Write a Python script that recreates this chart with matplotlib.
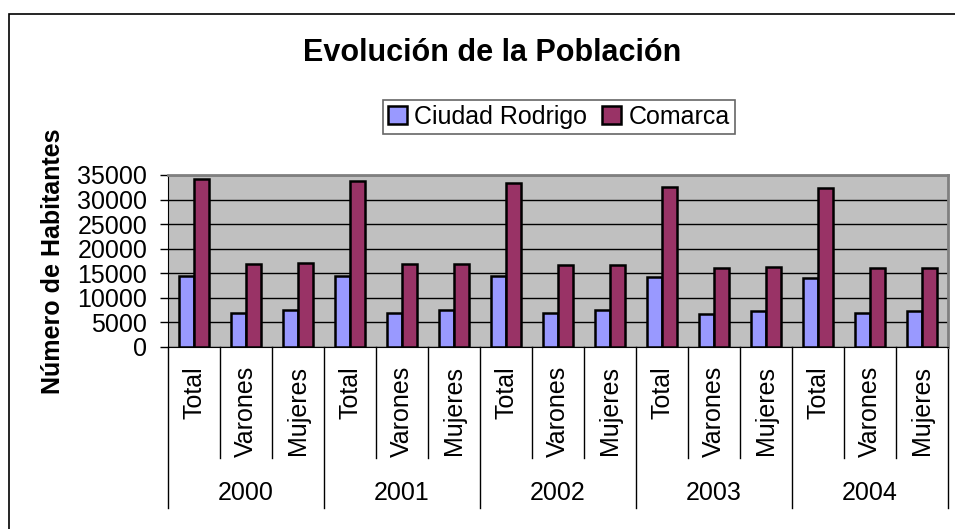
import numpy as np
import matplotlib.pyplot as plt
from matplotlib.patches import Patch, Rectangle
import matplotlib.transforms as mtransforms

plt.rcParams['font.family'] = ['Liberation Sans', 'DejaVu Sans']
FONTSIZE = 18

years = ["2000", "2001", "2002", "2003", "2004"]
subcats = ["Total", "Varones", "Mujeres"]
ciudad_rodrigo = [14530, 6890, 7570,
                  14400, 6890, 7450,
                  14470, 6960, 7570,
                  14200, 6760, 7370,
                  14130, 6820, 7310]
comarca = [34120, 16930, 17190,
           33780, 16790, 16930,
           33300, 16720, 16720,
           32620, 16170, 16380,
           32280, 16050, 16050]

W, H = 955, 529
fig = plt.figure(figsize=(W / 100, H / 100), dpi=100)
fig.patch.set_facecolor("white")

# outer chart frame (only top and left visible)
fig.patches.append(Rectangle((9 / W, -0.05), 1.1, 1 - 14 / H + 0.05,
                             transform=fig.transFigure, fill=False,
                             edgecolor="black", lw=1.2))

ax = fig.add_axes([168 / W, 1 - 347 / H, 780 / W, 172 / H])
ax.set_facecolor("#C0C0C0")

n = len(ciudad_rodrigo)
x = np.arange(n) + 0.5
bw = 0.28
ax.bar(x - bw / 2, ciudad_rodrigo, bw, color="#9999FF", edgecolor="black",
       lw=1.8, zorder=3, label="Ciudad Rodrigo")
ax.bar(x + bw / 2, comarca, bw, color="#993366", edgecolor="black",
       lw=1.8, zorder=3, label="Comarca")

ax.set_xlim(0, n)
ax.set_ylim(0, 35000)
ax.set_yticks(np.arange(0, 35001, 5000))
ax.yaxis.grid(True, color="black", lw=1)
ax.set_axisbelow(True)
ax.tick_params(axis="y", labelsize=FONTSIZE, length=6, width=1, pad=9)
ax.set_xticks([])
for s in ["top", "right"]:
    ax.spines[s].set_color("#808080")
    ax.spines[s].set_linewidth(2)
ax.spines["left"].set_color("black")
ax.spines["bottom"].set_color("black")

# multi-level category axis
trans = mtransforms.blended_transform_factory(ax.transData, ax.transAxes)
px = 1 / 172.0
for i in range(n + 1):
    bottom = -161 * px if i % 3 == 0 else -111 * px
    ax.plot([i, i], [0, bottom], color="black", lw=1, transform=trans,
            clip_on=False)
for i in range(n):
    ax.text(x[i], -19 * px, subcats[i % 3], rotation=90, ha="center",
            va="top", fontsize=FONTSIZE, transform=trans)
for j, yr in enumerate(years):
    ax.text(3 * j + 1.5, -146 * px, yr, ha="center", va="center",
            fontsize=FONTSIZE, transform=trans)

fig.text(492 / W, 1 - 53 / H, "Evolución de la Población", ha="center",
         va="center", fontsize=22, fontweight="bold")
fig.text(53 / W, 1 - 261 / H, "Número de Habitantes", rotation=90,
         ha="center", va="center", fontsize=FONTSIZE, fontweight="bold")

handles = [Patch(facecolor="#9999FF", edgecolor="black", lw=1.8),
           Patch(facecolor="#993366", edgecolor="black", lw=1.8)]
leg = fig.legend(handles, ["Ciudad Rodrigo", "Comarca"], loc="center",
                 bbox_to_anchor=(559 / W, 1 - 117 / H), ncol=2,
                 fontsize=FONTSIZE, frameon=True, fancybox=False,
                 edgecolor="#404040", borderpad=0.2, handlelength=0.75,
                 handleheight=0.75, handletextpad=0.3, columnspacing=0.6,
                 borderaxespad=0)
leg.get_frame().set_linewidth(1.2)

plt.savefig("out.png", dpi=100)
